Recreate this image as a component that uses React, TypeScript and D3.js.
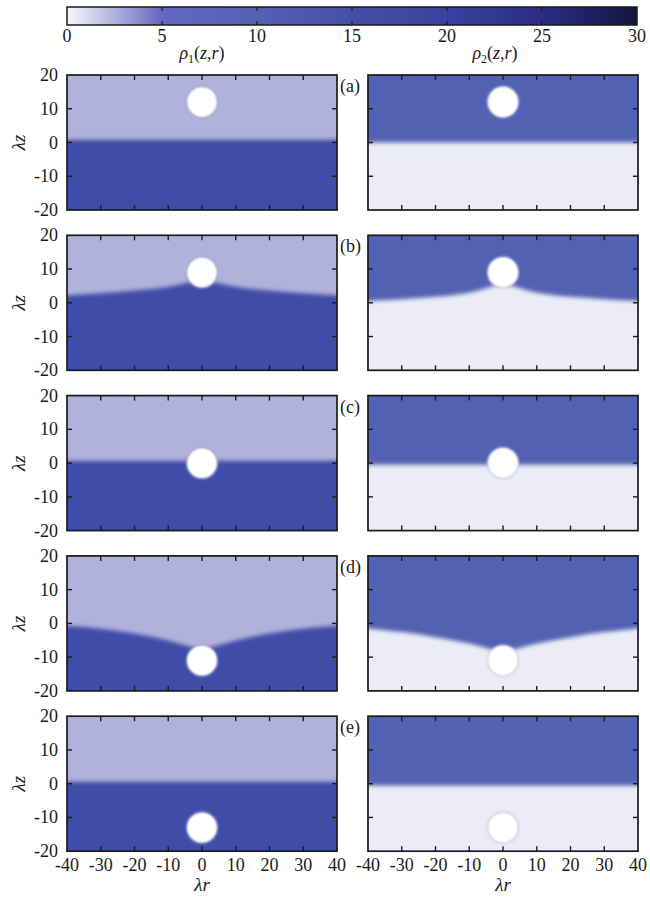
import { useEffect, useRef } from 'react';
import * as d3 from 'd3';

// colour bar
const colorTicks = [0, 5, 10, 15, 20, 25, 30];
const colorStops = [0, 2.5, 5, 10, 15, 20, 25, 30];
const colorHex = ['#f7f7fb', '#b1b2dc', '#6567c2', '#5261b2', '#4250aa', '#3842a0', '#2a2c86', '#14143c'];

// phase densities
const rho1Upper = 2.5;
const rho1Lower = 16;
const rho2Upper = 10;
const rho2Lower = 0.4;

const panelLabels = ['(a)', '(b)', '(c)', '(d)', '(e)'];
const vortexZ = [12, 9, 0, -11, -13];
const vortexRadius = 4.5;

const xTicks = [-40, -30, -20, -10, 0, 10, 20, 30, 40];
const yTicks = [20, 10, 0, -10, -20];

// interface height z(r)
const profileR = [-45, -40, -30, -20, -10, -5, 0, 5, 10, 20, 30, 40, 45];
const rho1Interface = [
  [0.8, 0.8, 0.8, 0.8, 0.8, 0.8, 0.8, 0.8, 0.8, 0.8, 0.8, 0.8, 0.8],
  [2, 2.2, 2.8, 3.6, 4.6, 5.8, 7, 5.8, 4.6, 3.6, 2.8, 2.2, 2],
  [0.7, 0.7, 0.7, 0.7, 0.7, 0.7, 0.7, 0.7, 0.7, 0.7, 0.7, 0.7, 0.7],
  [-0.5, -0.7, -1.5, -2.9, -4.9, -6.5, -8, -6.5, -4.9, -2.9, -1.5, -0.7, -0.5],
  [0.6, 0.6, 0.6, 0.6, 0.6, 0.6, 0.6, 0.6, 0.6, 0.6, 0.6, 0.6, 0.6],
];
const rho2Interface = [
  [0, 0, 0, 0, 0, 0, 0, 0, 0, 0, 0, 0, 0],
  [0.3, 0.5, 1, 1.7, 2.8, 4.3, 6, 4.3, 2.8, 1.7, 1, 0.5, 0.3],
  [-0.5, -0.5, -0.5, -0.5, -0.5, -0.5, -0.5, -0.5, -0.5, -0.5, -0.5, -0.5, -0.5],
  [-1.2, -1.4, -2.5, -4, -5.9, -7.3, -8.5, -7.3, -5.9, -4, -2.5, -1.4, -1.2],
  [-0.5, -0.5, -0.5, -0.5, -0.5, -0.5, -0.5, -0.5, -0.5, -0.5, -0.5, -0.5, -0.5],
];

export default function App() {
  const ref = useRef<SVGSVGElement>(null);

  useEffect(() => {
    document.body.style.margin = '0';
    if (!ref.current) return;
    const svg = d3.select(ref.current);
    svg.selectAll('*').remove();

    const font = 'Liberation Serif, serif';
    const fs = 18;
    const ink = '#1a1a1a';
    const color = d3.scaleLinear<string>().domain(colorStops).range(colorHex).clamp(true);

    const defs = svg.append('defs');
    defs.append('filter').attr('id', 'blurEdge')
      .attr('x', '-20%').attr('y', '-20%').attr('width', '140%').attr('height', '140%')
      .append('feGaussianBlur').attr('stdDeviation', 2.3);
    defs.append('filter').attr('id', 'blurVortex')
      .attr('x', '-50%').attr('y', '-50%').attr('width', '200%').attr('height', '200%')
      .append('feGaussianBlur').attr('stdDeviation', 1.1);

    // ---- colour bar ----
    const cbX = d3.scaleLinear().domain([0, 30]).range([67, 637]);
    const cbTop = 7, cbH = 18;
    const grad = defs.append('linearGradient').attr('id', 'cbGrad');
    colorStops.forEach(v => {
      grad.append('stop').attr('offset', `${(v / 30) * 100}%`).attr('stop-color', color(v));
    });
    svg.append('rect').attr('x', cbX(0)).attr('y', cbTop).attr('width', cbX(30) - cbX(0)).attr('height', cbH)
      .attr('fill', 'url(#cbGrad)');
    colorTicks.slice(1, -1).forEach(t => {
      svg.append('line').attr('x1', cbX(t)).attr('x2', cbX(t)).attr('y1', cbTop).attr('y2', cbTop + 4)
        .attr('stroke', ink).attr('stroke-width', 1.2);
      svg.append('line').attr('x1', cbX(t)).attr('x2', cbX(t)).attr('y1', cbTop + cbH).attr('y2', cbTop + cbH - 4)
        .attr('stroke', ink).attr('stroke-width', 1.2);
    });
    svg.append('rect').attr('x', cbX(0)).attr('y', cbTop).attr('width', cbX(30) - cbX(0)).attr('height', cbH)
      .attr('fill', 'none').attr('stroke', ink).attr('stroke-width', 1.5);
    svg.selectAll('.cb-label').data(colorTicks).enter().append('text')
      .attr('x', d => cbX(d)).attr('y', 42).attr('text-anchor', 'middle')
      .attr('font-family', font).attr('font-size', fs).attr('fill', ink)
      .text(d => String(d));

    // ---- panels ----
    const colX = [67, 368];
    const panelW = 270, panelH = 135;
    const rowTops = panelLabels.map((_, i) => 75 + i * 160.3);

    const titles = [
      { sub: '1', cx: colX[0] + panelW / 2 },
      { sub: '2', cx: colX[1] + panelW / 2 - 8 },
    ];
    titles.forEach(t => {
      const txt = svg.append('text').attr('x', t.cx).attr('y', 59).attr('text-anchor', 'middle')
        .attr('font-family', font).attr('font-size', fs).attr('fill', ink);
      txt.append('tspan').attr('font-style', 'italic').text('ρ');
      txt.append('tspan').attr('font-size', 12).attr('dy', 4).text(t.sub);
      txt.append('tspan').attr('dy', -4).text('(');
      txt.append('tspan').attr('font-style', 'italic').text('z');
      txt.append('tspan').text(',');
      txt.append('tspan').attr('font-style', 'italic').text('r');
      txt.append('tspan').text(')');
    });

    panelLabels.forEach((label, i) => {
      [0, 1].forEach(c => {
        const x0 = colX[c], y0 = rowTops[i];
        const x = d3.scaleLinear().domain([-40, 40]).range([x0, x0 + panelW]);
        const y = d3.scaleLinear().domain([-20, 20]).range([y0 + panelH, y0]);
        const clipId = `clip-${i}-${c}`;
        defs.append('clipPath').attr('id', clipId)
          .append('rect').attr('x', x0).attr('y', y0).attr('width', panelW).attr('height', panelH);

        const upper = c === 0 ? rho1Upper : rho2Upper;
        const lower = c === 0 ? rho1Lower : rho2Lower;
        const prof = c === 0 ? rho1Interface[i] : rho2Interface[i];

        const g = svg.append('g').attr('clip-path', `url(#${clipId})`);
        g.append('rect').attr('x', x0).attr('y', y0).attr('width', panelW).attr('height', panelH)
          .attr('fill', color(upper));

        const area = d3.area<number>()
          .x((_, k) => x(profileR[k]))
          .y0(() => y(-26))
          .y1(d => y(d))
          .curve(d3.curveBasis);
        g.append('path').datum(prof).attr('d', area).attr('fill', color(lower))
          .attr('filter', 'url(#blurEdge)');

        const rx = x(vortexRadius) - x(0);
        const ry = y(0) - y(vortexRadius);
        g.append('ellipse').attr('cx', x(0)).attr('cy', y(vortexZ[i])).attr('rx', rx).attr('ry', ry)
          .attr('fill', '#ffffff').attr('stroke', c === 0 ? '#9c9ed0' : '#c4c6e6').attr('stroke-width', 1.6)
          .attr('filter', 'url(#blurVortex)');
        g.append('ellipse').attr('cx', x(0)).attr('cy', y(vortexZ[i])).attr('rx', rx - 1.5).attr('ry', ry - 1.5)
          .attr('fill', '#ffffff').attr('filter', 'url(#blurVortex)');

        // ticks (inward)
        const tk = 5;
        xTicks.slice(1, -1).forEach(t => {
          svg.append('line').attr('x1', x(t)).attr('x2', x(t)).attr('y1', y0).attr('y2', y0 + tk)
            .attr('stroke', ink).attr('stroke-width', 1.4);
          svg.append('line').attr('x1', x(t)).attr('x2', x(t)).attr('y1', y0 + panelH).attr('y2', y0 + panelH - tk)
            .attr('stroke', ink).attr('stroke-width', 1.4);
        });
        yTicks.slice(1, -1).forEach(t => {
          svg.append('line').attr('x1', x0).attr('x2', x0 + tk).attr('y1', y(t)).attr('y2', y(t))
            .attr('stroke', ink).attr('stroke-width', 1.4);
          svg.append('line').attr('x1', x0 + panelW).attr('x2', x0 + panelW - tk).attr('y1', y(t)).attr('y2', y(t))
            .attr('stroke', ink).attr('stroke-width', 1.4);
        });
        svg.append('rect').attr('x', x0).attr('y', y0).attr('width', panelW).attr('height', panelH)
          .attr('fill', 'none').attr('stroke', ink).attr('stroke-width', 1.7);

        if (c === 0) {
          svg.selectAll(null).data(yTicks).enter().append('text')
            .attr('x', x0 - 9).attr('y', d => y(d) + 6).attr('text-anchor', 'end')
            .attr('font-family', font).attr('font-size', fs).attr('fill', ink)
            .text(d => String(d));
          svg.append('text')
            .attr('transform', `translate(25,${y(0)}) rotate(-90)`)
            .attr('text-anchor', 'middle')
            .attr('font-family', font).attr('font-size', 19).attr('font-style', 'italic').attr('fill', ink)
            .text('λz');
        } else {
          svg.append('text').attr('x', x0 - 28).attr('y', y0 + 17)
            .attr('font-family', font).attr('font-size', fs).attr('fill', ink).text(label);
        }

        if (i === panelLabels.length - 1) {
          svg.selectAll(null).data(xTicks).enter().append('text')
            .attr('x', d => x(d)).attr('y', y0 + panelH + 20).attr('text-anchor', 'middle')
            .attr('font-family', font).attr('font-size', fs).attr('fill', ink)
            .text(d => String(d));
          svg.append('text').attr('x', x(0)).attr('y', y0 + panelH + 40).attr('text-anchor', 'middle')
            .attr('font-family', font).attr('font-size', 19).attr('font-style', 'italic').attr('fill', ink)
            .text('λr');
        }
      });
    });
  }, []);

  return <svg ref={ref} width={650} height={900} style={{ display: 'block', background: '#fff' }} />;
}
